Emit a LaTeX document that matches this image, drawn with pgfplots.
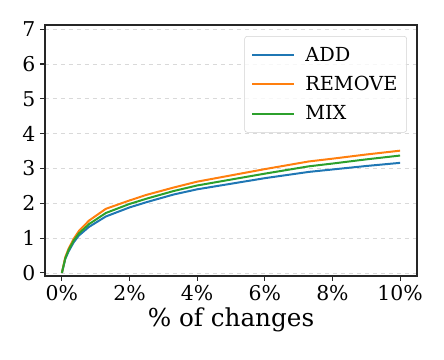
\documentclass[border=0pt]{standalone}
\usepackage{fontspec}
\setmainfont{DejaVu Serif}
\usepackage{pgfplots}
\pgfplotsset{compat=1.18}

\definecolor{tabblue}{HTML}{1F77B4}
\definecolor{taborange}{HTML}{FF7F0E}
\definecolor{tabgreen}{HTML}{2CA02C}

\begin{document}
\begin{tikzpicture}
\begin{axis}[
    name=ax,
    scale only axis,
    width=279pt, height=188.25pt,
    xmin=-0.5, xmax=10.5,
    ymin=-0.09, ymax=7.12,
    xtick={0,2,4,6,8,10},
    xticklabels={0\%,2\%,4\%,6\%,8\%,10\%},
    ytick={0,1,2,3,4,5,6,7},
    /pgf/number format/assume math mode=true,
    tick align=outside,
    xtick pos=bottom, ytick pos=left,
    major tick length=3.75pt,
    every tick/.style={black!85, line width=0.8pt},
    axis line style={black!85, line width=1pt},
    tick label style={font=\fontsize{15.3}{18}\selectfont, black},
    xlabel={\% of changes},
    xlabel style={font=\fontsize{18.5}{22}\selectfont, yshift=2pt},
    ymajorgrids,
    major grid style={dashed, gray!30, line width=0.5pt},
    legend style={
        at={(0.973,0.956)}, anchor=north east,
        draw=gray!35, rounded corners=2pt, fill=white, fill opacity=0.8, text opacity=1,
        font=\fontsize{14.5}{17}\selectfont,
        row sep=5.8pt, column sep=6pt, inner xsep=5pt, inner ysep=6pt,
    },
    legend cell align=left,
    legend image code/.code={\draw[#1] (0pt,0pt) -- (31pt,0pt);},
    every axis plot/.append style={line width=1.5pt},
]
\addplot[tabblue] coordinates {
  (0,0) (0.1,0.4) (0.2,0.62) (0.35,0.88) (0.5,1.07) (0.8,1.32) (1.3,1.62)
  (2,1.88) (2.5,2.03) (3.3,2.25) (4,2.4) (5,2.56) (6,2.72) (7.3,2.9)
  (8,2.97) (9,3.07) (10,3.16)
};
\addlegendentry{ADD}
\addplot[taborange] coordinates {
  (0,0) (0.1,0.45) (0.2,0.7) (0.35,0.98) (0.5,1.2) (0.8,1.5) (1.3,1.84)
  (2,2.08) (2.5,2.24) (3.3,2.45) (4,2.62) (5,2.8) (6,2.98) (7.3,3.2)
  (8,3.28) (9,3.4) (10,3.51)
};
\addlegendentry{REMOVE}
\addplot[tabgreen] coordinates {
  (0,0) (0.1,0.42) (0.2,0.66) (0.35,0.93) (0.5,1.13) (0.8,1.4) (1.3,1.72)
  (2,1.98) (2.5,2.13) (3.3,2.35) (4,2.51) (5,2.68) (6,2.85) (7.3,3.06)
  (8,3.14) (9,3.26) (10,3.37)
};
\addlegendentry{MIX}
\end{axis}
% page margins as in the reference
\path ([xshift=-33.75pt,yshift=-63pt]ax.south west) rectangle ([xshift=20.25pt,yshift=18.75pt]ax.north east);
\end{tikzpicture}
\end{document}
